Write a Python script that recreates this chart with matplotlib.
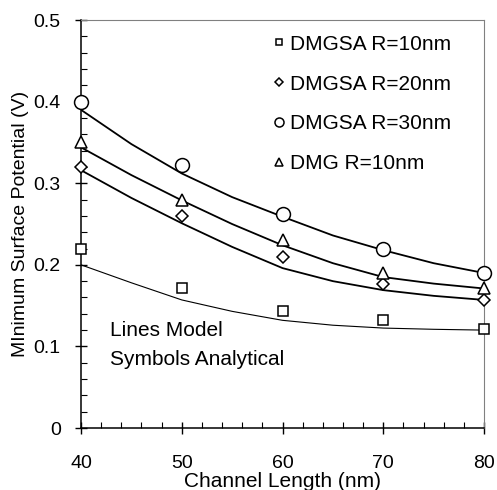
import matplotlib.pyplot as plt
from matplotlib.ticker import MultipleLocator, FormatStrFormatter

plt.rcParams['font.family'] = ['Liberation Sans', 'DejaVu Sans']

# ── Дані ─────────────────────────────────────────────────────────────────────
L_pts = [40, 50, 60, 70, 80]
sa_r10 = [0.22, 0.172, 0.143, 0.132, 0.121]
sa_r20 = [0.32, 0.26, 0.21, 0.177, 0.157]
sa_r30 = [0.40, 0.322, 0.262, 0.22, 0.19]
dmg_r10 = [0.35, 0.28, 0.23, 0.19, 0.172]

L_line = [40, 45, 50, 55, 60, 65, 70, 75, 80]
m_r10 = [0.200, 0.178, 0.157, 0.143, 0.132, 0.126, 0.1225, 0.121, 0.120]
m_r20 = [0.316, 0.282, 0.251, 0.222, 0.196, 0.180, 0.169, 0.162, 0.157]
m_r30 = [0.390, 0.348, 0.312, 0.283, 0.259, 0.236, 0.218, 0.202, 0.190]
m_dmg = [0.344, 0.310, 0.279, 0.250, 0.224, 0.202, 0.185, 0.177, 0.171]

fig = plt.figure(figsize=(4.97, 4.90), dpi=100)
ax = fig.add_axes([0.163, 0.1265, 0.811, 0.8325])

# лінії моделі
ax.plot(L_line, m_r10, color='black', lw=0.8)
for y in (m_r20, m_r30, m_dmg):
    ax.plot(L_line, y, color='black', lw=1.3)

# символи
mk = dict(linestyle='none', mfc='white', mec='black', mew=1.1, clip_on=False, zorder=5)
ax.plot(L_pts, sa_r10, marker='s', ms=7, label='DMGSA R=10nm', **mk)
ax.plot(L_pts, sa_r20, marker='D', ms=6, label='DMGSA R=20nm', **mk)
ax.plot(L_pts, sa_r30, marker='o', ms=10, label='DMGSA R=30nm', **mk)
ax.plot(L_pts, dmg_r10, marker='^', ms=9, label='DMG R=10nm', **mk)

leg = ax.legend(loc='upper right', frameon=False, fontsize=15, markerscale=0.65,
                handlelength=0.5, handletextpad=0.3, labelspacing=1.0,
                borderaxespad=0.3, bbox_to_anchor=(0.955, 1.0))

ax.text(0.072, 0.262, 'Lines Model\nSymbols Analytical', transform=ax.transAxes,
        fontsize=15, va='top', ha='left', linespacing=1.65)

ax.set_xlim(40, 80)
ax.set_ylim(0, 0.5)
ax.xaxis.set_major_locator(MultipleLocator(10))
ax.xaxis.set_minor_locator(MultipleLocator(2))
ax.yaxis.set_major_locator(MultipleLocator(0.1))
ax.yaxis.set_minor_locator(MultipleLocator(0.02))
ax.yaxis.set_major_formatter(FormatStrFormatter('%g'))

ax.tick_params(which='major', direction='inout', length=9, width=1.0,
               labelsize=14, top=False, right=False)
ax.tick_params(axis='x', which='major', pad=15)
ax.tick_params(axis='y', which='major', pad=10)
ax.tick_params(which='minor', direction='in', length=4, width=0.8,
               top=False, right=False)

for s in ('top', 'right'):
    ax.spines[s].set_color('#808080')
for s in ('left', 'bottom'):
    ax.spines[s].set_linewidth(1.1)

ax.set_xlabel('Channel Length (nm)', fontsize=15, labelpad=0)
ax.set_ylabel('MInimum Surface Potential (V)', fontsize=14, labelpad=3)

fig.savefig('out.png', dpi=100, facecolor='white')
